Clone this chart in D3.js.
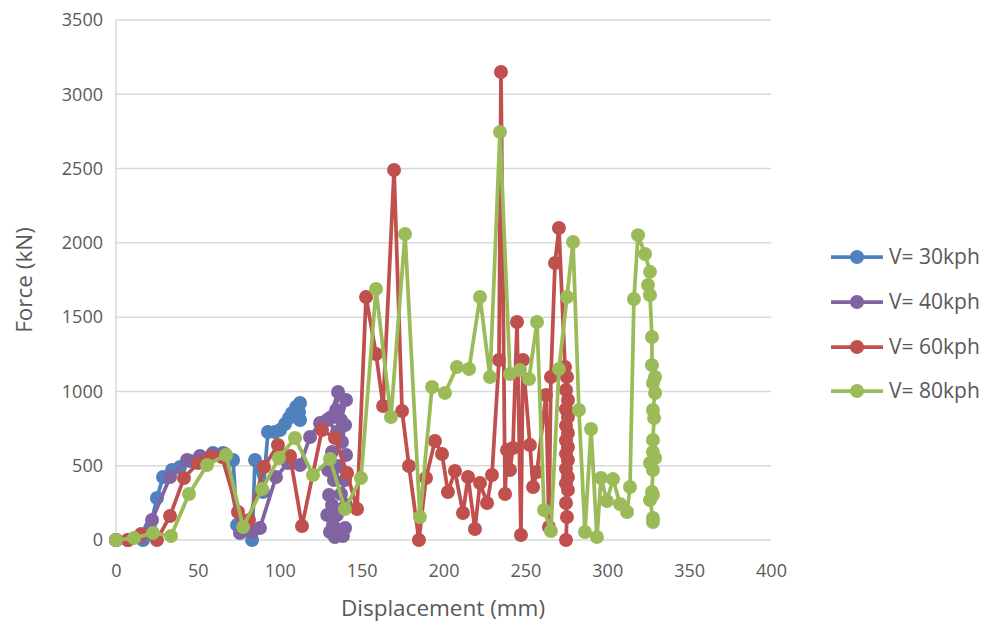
<!DOCTYPE html>
<html>
<head>
<meta charset="utf-8">
<script src="https://cdn.jsdelivr.net/npm/d3@7"></script>
<style>
  html, body { margin: 0; padding: 0; background: #ffffff; }
  svg { display: block; }
  text { font-family: "Open Sans", "Noto Sans", sans-serif; fill: #595959; }
</style>
</head>
<body>
<svg id="chart" width="986" height="626"></svg>
<script>
// Force–displacement curves for four impact speeds
const seriesNames = ["V= 30kph", "V= 40kph", "V= 60kph", "V= 80kph"];
const seriesColors = ["#4F81BD", "#8064A2", "#C0504D", "#9BBB59"];

const xTicks = [0, 50, 100, 150, 200, 250, 300, 350, 400];
const yTicks = [0, 500, 1000, 1500, 2000, 2500, 3000, 3500];

// V = 30 kph
const disp30 = [0, 7.3, 16.5, 20.8, 25.0, 28.7, 34.2, 39.1, 45.2, 51.3, 59.2, 65.3, 71.5, 73.9, 83.1, 84.9, 89.8, 92.8, 97.1, 100.2, 103.2, 105.6, 107.5, 110.0, 112.4, 111.8, 112.4];
const force30 = [0, 0, 0, 81, 283, 424, 471, 491, 532, 559, 586, 586, 538, 101, 0, 538, 323, 727, 727, 740, 781, 821, 855, 895, 922, 862, 808];

// V = 40 kph
const disp40 = [0, 7.3, 14.7, 22.0, 33.0, 43.4, 51.3, 59.2, 66.6, 75.7, 83.1, 87.9, 97.7, 105.0, 112.4, 118.5, 124.6, 130.7, 135.6, 134.4, 137.4, 140.5, 132.5, 129.0, 134.9, 139.9, 138.0, 131.9, 129.6, 135.6, 140.5, 133.1, 139.9, 137.4, 130.1, 131.9, 140.5, 134.9, 129.0, 132.5, 139.9, 136.8, 130.7, 133.7, 138.6];
const force40 = [0, 0, 20, 135, 424, 538, 565, 579, 579, 47, 54, 81, 424, 518, 505, 693, 788, 821, 996, 875, 808, 942, 835, 808, 727, 774, 660, 592, 471, 498, 572, 404, 404, 310, 303, 236, 236, 168, 168, 101, 81, 67, 54, 20, 27];

// V = 60 kph
const disp60 = [0, 7.3, 15.3, 25.0, 33.0, 41.5, 50.1, 57.4, 64.7, 74.5, 81.2, 90.4, 98.9, 106.3, 113.6, 125.8, 133.7, 141.1, 147.2, 152.7, 158.8, 163.1, 169.8, 174.7, 178.9, 185.0, 189.3, 194.8, 199.1, 202.7, 207.0, 211.9, 215.0, 219.2, 222.3, 226.6, 229.6, 233.9, 235.1, 237.6, 238.8, 240.6, 242.4, 244.9, 247.3, 248.5, 252.8, 254.7, 257.1, 262.6, 264.4, 265.6, 268.1, 270.5, 274.2, 275.4, 274.8, 276.0, 274.8, 276.0, 274.8, 276.0, 274.8, 276.0, 274.8, 276.0, 274.8, 276.0, 274.8, 276.0, 274.8, 275.4, 274.8];
const force60 = [0, 0, 40, 0, 162, 417, 518, 559, 559, 188, 135, 491, 639, 565, 94, 740, 687, 451, 209, 1636, 1252, 902, 2490, 868, 498, 0, 417, 666, 579, 323, 464, 182, 424, 74, 384, 249, 437, 1212, 3150, 310, 606, 471, 619, 1467, 34, 1212, 639, 357, 458, 976, 88, 1097, 1864, 2100, 1164, 1097, 1010, 942, 880, 828, 770, 720, 670, 626, 580, 538, 480, 424, 380, 337, 249, 155, 0];

// V = 80 kph
const disp80 = [0, 11.0, 22.6, 33.6, 44.6, 55.6, 67.2, 77.6, 89.2, 99.5, 109.3, 120.3, 130.7, 139.8, 149.6, 158.8, 167.9, 176.5, 185.6, 193.0, 200.9, 208.2, 215.6, 222.3, 228.4, 234.5, 240.6, 246.7, 252.2, 257.1, 261.4, 265.6, 270.5, 275.4, 279.1, 282.7, 286.4, 290.1, 293.7, 296.2, 299.8, 303.5, 307.8, 312.1, 313.9, 316.3, 318.8, 323.1, 326.1, 324.9, 326.1, 327.3, 327.3, 329.2, 327.9, 329.2, 327.9, 328.6, 327.9, 327.9, 329.2, 326.1, 327.9, 327.3, 327.9, 326.1, 327.9, 327.9];
const force80 = [0, 13, 47, 27, 310, 505, 572, 88, 343, 552, 687, 437, 545, 209, 417, 1690, 828, 2060, 155, 1030, 990, 1164, 1151, 1636, 1097, 2746, 1117, 1144, 1084, 1467, 202, 61, 1151, 1636, 2006, 875, 54, 747, 20, 417, 262, 410, 242, 188, 357, 1622, 2052, 1925, 1805, 1716, 1649, 1366, 1177, 1097, 1057, 989, 875, 821, 673, 592, 552, 518, 471, 323, 303, 269, 148, 121];

const displacements = [disp30, disp40, disp60, disp80];
const forces = [force30, force40, force60, force80];

const svg = d3.select("#chart");
const plot = { left: 116, right: 771, top: 20, bottom: 540 };

const x = d3.scaleLinear().domain([0, 400]).range([plot.left, plot.right]);
const y = d3.scaleLinear().domain([0, 3500]).range([plot.bottom, plot.top]);

svg.append("rect").attr("width", 986).attr("height", 626).attr("fill", "#ffffff");

// Horizontal gridlines
svg.append("g")
  .selectAll("line")
  .data(yTicks)
  .join("line")
  .attr("x1", plot.left).attr("x2", plot.right)
  .attr("y1", d => y(d)).attr("y2", d => y(d))
  .attr("stroke", "#d9d9d9").attr("stroke-width", 1.5);

// Vertical axis line
svg.append("line")
  .attr("x1", plot.left).attr("x2", plot.left)
  .attr("y1", plot.top).attr("y2", plot.bottom)
  .attr("stroke", "#d9d9d9").attr("stroke-width", 1.5);

// Y axis tick labels
const yAxis = d3.axisLeft(y).tickValues(yTicks).tickSize(0).tickPadding(13).tickFormat(d3.format("d"));
const gy = svg.append("g").attr("transform", `translate(${plot.left},0)`).call(yAxis);
gy.select(".domain").remove();
gy.selectAll("text").attr("font-size", 18).attr("font-family", "'Open Sans', sans-serif").attr("fill", "#595959");

// X axis tick labels
const xAxis = d3.axisBottom(x).tickValues(xTicks).tickSize(0).tickPadding(24).tickFormat(d3.format("d"));
const gx = svg.append("g").attr("transform", `translate(0,${plot.bottom})`).call(xAxis);
gx.select(".domain").remove();
gx.selectAll("text").attr("font-size", 18).attr("font-family", "'Open Sans', sans-serif").attr("fill", "#595959");

// Axis titles
svg.append("text")
  .attr("x", 443).attr("y", 616)
  .attr("text-anchor", "middle").attr("font-size", 22.5)
  .text("Displacement (mm)");

svg.append("text")
  .attr("transform", `translate(32,${(plot.top + plot.bottom) / 2}) rotate(-90)`)
  .attr("text-anchor", "middle").attr("font-size", 22.5)
  .text("Force (kN)");

// Series lines and markers
const line = d3.line().x(d => x(d[0])).y(d => y(d[1]));

seriesNames.forEach((name, i) => {
  const pts = displacements[i].map((d, j) => [d, forces[i][j]]);
  const g = svg.append("g");
  g.append("path")
    .datum(pts)
    .attr("d", line)
    .attr("fill", "none")
    .attr("stroke", seriesColors[i])
    .attr("stroke-width", 3.75)
    .attr("stroke-linejoin", "round");
  g.selectAll("circle")
    .data(pts)
    .join("circle")
    .attr("cx", d => x(d[0]))
    .attr("cy", d => y(d[1]))
    .attr("r", 7)
    .attr("fill", seriesColors[i]);
});

// Legend
const legendY = [257, 302, 347, 391];
const legend = svg.append("g");
seriesNames.forEach((name, i) => {
  const g = legend.append("g").attr("transform", `translate(0,${legendY[i]})`);
  g.append("line").attr("x1", 831).attr("x2", 883).attr("y1", 0).attr("y2", 0)
    .attr("stroke", seriesColors[i]).attr("stroke-width", 3.75);
  g.append("circle").attr("cx", 857).attr("cy", 0).attr("r", 7).attr("fill", seriesColors[i]);
  g.append("text").attr("x", 889).attr("y", 0).attr("dy", "0.35em")
    .attr("font-size", 21).text(name);
});
</script>
</body>
</html>
